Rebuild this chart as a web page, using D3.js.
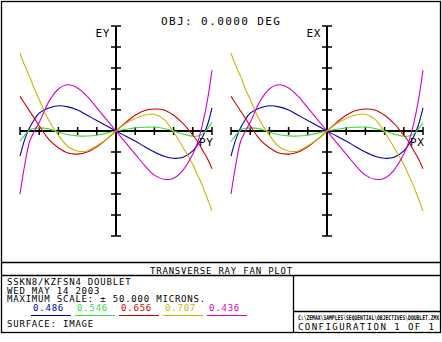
<!DOCTYPE html>
<html lang="en">
<head>
<meta charset="UTF-8">
<title>Transverse Ray Fan Plot</title>
<script src="https://d3js.org/d3.v7.min.js"></script>
<style>
  body { margin: 0; background: #fff; }
  svg { display: block; background: #fff; }
  text { font-family: "DejaVu Sans Mono", "Liberation Mono", monospace; fill: #000; }
</style>
</head>
<body>
<script>
// pupil coordinate (PY / PX), normalised
const pupil = [-1, -0.95, -0.9, -0.85, -0.8, -0.7, -0.6, -0.5, -0.4, -0.3, -0.2, -0.1, 0,
               0.1, 0.2, 0.3, 0.4, 0.5, 0.6, 0.7, 0.8, 0.85, 0.9, 0.95, 1];

// transverse aberration in microns, one array per wavelength
const w486 = [-12, -4, 1.5, 5.5, 8.5, 11, 12, 11.5, 10, 7.5, 5, 2.5, 0,
              -2.4, -4.8, -7.5, -10, -12, -13, -12.5, -9.5, -6.5, -3, 2.5, 11];
const w546 = [-5, -2, 0.5, 1.3, 1.5, 1, -0.5, -1.8, -2.3, -2.4, -2, -1, 0,
              0.8, 1.5, 1.8, 1.9, 1.2, 0, -1.5, -2.5, -2.4, -1.5, 0.8, 4];
const w656 = [16.5, 13, 9.5, 6, 2.5, -4, -8, -10.5, -11, -10, -7.5, -4, 0,
              4, 7.5, 9.8, 10.5, 10, 7.5, 3.5, -2, -5, -9, -13, -18];
const w707 = [37, 31, 26, 20, 15, 5, -2, -7.5, -9.5, -9.5, -7, -4, 0,
              3.5, 6, 7.6, 8, 5.5, -0.5, -8, -16, -21, -26, -32, -38];
const w436 = [-30, -16, -5, 0, 4, 14, 20, 22, 20.5, 16.5, 11, 5.5, 0,
              -5.5, -11, -16.5, -21, -23, -22.5, -18.5, -11, -5.5, 3, 14, 29];

const waveLabels = ["0.486", "0.546", "0.656", "0.707", "0.436"];
const series = [w486, w546, w656, w707, w436];
const colors = ["#0000a8", "#3cdc3c", "#d00000", "#c8b800", "#d000d0"];

const maxScale = 50;

const svg = d3.select("body").append("svg")
  .attr("width", 442).attr("height", 342);

const yScale = d3.scaleLinear().domain([-maxScale, maxScale]).range([236, 26]);

function fan(x0, x1, vLabel, hLabel) {
  const xScale = d3.scaleLinear().domain([-1, 1]).range([x0, x1]);
  const g = svg.append("g");
  const cx = xScale(0), cy = yScale(0);

  // axes
  g.append("line").attr("x1", xScale(-1)).attr("x2", xScale(1))
    .attr("y1", cy).attr("y2", cy).attr("stroke", "#000").attr("stroke-width", 2);
  g.append("line").attr("x1", cx).attr("x2", cx)
    .attr("y1", yScale(maxScale)).attr("y2", yScale(-maxScale))
    .attr("stroke", "#000").attr("stroke-width", 2);

  g.selectAll(".xt").data(d3.range(-5, 6).map(d => d / 5)).enter().append("line")
    .attr("x1", d => xScale(d)).attr("x2", d => xScale(d))
    .attr("y1", cy - 4).attr("y2", cy + 4)
    .attr("stroke", "#000").attr("stroke-width", 1.5);
  g.selectAll(".yt").data(yScale.ticks(10)).enter().append("line")
    .attr("x1", cx - 5).attr("x2", cx + 5)
    .attr("y1", d => yScale(d)).attr("y2", d => yScale(d))
    .attr("stroke", "#000").attr("stroke-width", 1.5);

  const line = d3.line()
    .x((d, i) => xScale(pupil[i]))
    .y(d => yScale(d))
    .curve(d3.curveCatmullRom);

  g.selectAll(".fan").data(series).enter().append("path")
    .attr("d", d => line(d))
    .attr("fill", "none")
    .attr("stroke", (d, i) => colors[i])
    .attr("stroke-width", 1.1);

  g.append("text").attr("x", cx - 6).attr("y", 37)
    .attr("text-anchor", "end").attr("font-size", 11).attr("letter-spacing", 0.6)
    .text(vLabel);
  g.append("text").attr("x", xScale(1) - 13).attr("y", 146)
    .attr("font-size", 11).attr("letter-spacing", 0.6)
    .text(hLabel);
}

fan(20, 212, "EY", "PY");
fan(231, 423, "EX", "PX");

svg.append("text").attr("x", 161).attr("y", 25)
  .attr("font-size", 11).attr("letter-spacing", 1.4)
  .text("OBJ: 0.0000 DEG");

// frame and info box
const frame = svg.append("g").attr("stroke", "#000").attr("stroke-width", 1.3).attr("fill", "none");
frame.append("rect").attr("x", 1.5).attr("y", 1.5).attr("width", 439).attr("height", 331);
frame.append("line").attr("x1", 1.5).attr("x2", 440.5).attr("y1", 262.5).attr("y2", 262.5);
frame.append("line").attr("x1", 1.5).attr("x2", 440.5).attr("y1", 275.5).attr("y2", 275.5);
frame.append("line").attr("x1", 293.5).attr("x2", 293.5).attr("y1", 275.5).attr("y2", 332.5);
frame.append("line").attr("x1", 293.5).attr("x2", 440.5).attr("y1", 311.5).attr("y2", 311.5);

svg.append("text").attr("x", 150).attr("y", 273.5)
  .attr("font-size", 9).attr("letter-spacing", 0.8)
  .text("TRANSVERSE RAY FAN PLOT");

const info = ["SSKN8/KZFSN4 DOUBLET", "WED MAY 14 2003", "MAXIMUM SCALE: \u00b1 50.000 MICRONS."];
svg.selectAll(".info").data(info).enter().append("text")
  .attr("x", 7).attr("y", (d, i) => 285 + i * 8.5)
  .attr("font-size", 9).attr("letter-spacing", 0.8)
  .text(d => d);

const leg = svg.selectAll(".leg").data(waveLabels).enter().append("g")
  .attr("transform", (d, i) => `translate(${31 + i * 44},0)`);
leg.append("text").attr("x", 2).attr("y", 310.5)
  .attr("font-size", 9).attr("letter-spacing", 0.8)
  .style("fill", (d, i) => colors[i])
  .text(d => d);
leg.append("line").attr("x1", 0).attr("x2", 40).attr("y1", 315.5).attr("y2", 315.5)
  .attr("stroke", (d, i) => colors[i]).attr("stroke-width", 1);

svg.append("text").attr("x", 7).attr("y", 326.5)
  .attr("font-size", 9).attr("letter-spacing", 0.8)
  .text("SURFACE: IMAGE");

svg.append("text")
  .attr("transform", "translate(298,319.5) scale(1,1.4)")
  .attr("font-size", 4.7).attr("font-weight", "bold")
  .text("C:\\ZEMAX\\SAMPLES\\SEQUENTIAL\\OBJECTIVES\\DOUBLET.ZMX");

svg.append("text").attr("x", 298).attr("y", 329.5)
  .attr("font-size", 9).attr("letter-spacing", 1.45)
  .text("CONFIGURATION 1 OF 1");
</script>
</body>
</html>
